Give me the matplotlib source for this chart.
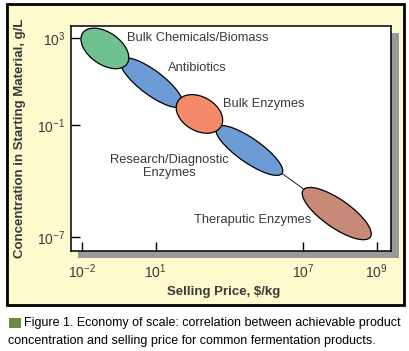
import matplotlib
matplotlib.use("Agg")
import matplotlib.pyplot as plt
from matplotlib.patches import Ellipse, Rectangle
from matplotlib.transforms import ScaledTranslation

plt.rcParams['font.family'] = ['Liberation Sans', 'DejaVu Sans']
plt.rcParams['mathtext.fontset'] = 'custom'
plt.rcParams['mathtext.rm'] = 'Liberation Sans'
plt.rcParams['mathtext.default'] = 'regular'

# ---- data (axis positions in plot units) ----
x_tick_pos = [-2, 1, 7, 10]
x_tick_labels = ['$10^{-2}$', '$10^{1}$', '$10^{7}$', '$10^{9}$']
y_tick_pos = [3, -1, -6.15]
y_tick_labels = ['$10^{3}$', '$10^{-1}$', '$10^{-7}$']

products = ['Antibiotics', 'Research/Diagnostic\nEnzymes', 'Bulk Chemicals/Biomass',
            'Bulk Enzymes', 'Theraputic Enzymes']
center_x = [0.83, 4.81, -1.07, 2.78, 8.37]
center_y = [0.95, -2.17, 2.52, -0.49, -5.07]
size_major = [76, 80, 54, 50, 82]   # px
size_minor = [24, 24, 32, 34, 28]   # px
tilt = [-37, -35, -35, -30, -35]
fills = ['#6d9bd6', '#6d9bd6', '#6fc190', '#f58a6b', '#c98978']

label_x = [1.50, 1.54, -0.17, 3.73, 2.55]
label_y = [1.62, -2.91, 3.0, -0.03, -5.37]
label_ha = ['left', 'center', 'left', 'left', 'left']

link_x = [6.17, 7.02]
link_y = [-3.25, -3.94]

W, H = 410, 351
fig = plt.figure(figsize=(W / 100, H / 100), dpi=100)
fig.patch.set_facecolor('white')

def fx(px):
    return px / W

def fy(py):
    return 1 - py / H

# yellow panel
fig.patches.append(Rectangle((fx(7), fy(305)), fx(404) - fx(7), fy(4) - fy(305),
                             transform=fig.transFigure, facecolor='#fffacd',
                             edgecolor='black', linewidth=2, zorder=-2))
# shadow
fig.patches.append(Rectangle((fx(78), fy(258)), fx(321), 225 / H,
                             transform=fig.transFigure, facecolor='#9a9a9a',
                             edgecolor='none', zorder=-1))

ax = fig.add_axes([fx(71), fy(251), fx(320), 225 / H])
ax.set_facecolor('white')
ax.set_xlim(-2.45, 10.58)
ax.set_ylim(-6.79, 3.55)
for s in ax.spines.values():
    s.set_linewidth(1.1)
    s.set_color('black')

ax.set_xticks(x_tick_pos)
ax.set_xticklabels(x_tick_labels)
ax.set_yticks(y_tick_pos)
ax.set_yticklabels(y_tick_labels)
ax.tick_params(axis='both', direction='in', length=6.5, width=1.0, colors='black',
               labelcolor='#3a3a3a', labelsize=10)
ax.tick_params(axis='x', pad=8)
ax.tick_params(axis='y', pad=4)

for i in range(len(products)):
    tr = fig.dpi_scale_trans + ScaledTranslation(center_x[i], center_y[i], ax.transData)
    e = Ellipse((0, 0), size_major[i] / 100, size_minor[i] / 100, angle=tilt[i],
                transform=tr, facecolor=fills[i], edgecolor='black', linewidth=0.9, zorder=2 + i)
    ax.add_patch(e)
    ax.text(label_x[i], label_y[i], products[i], ha=label_ha[i], va='center',
            multialignment='center', fontsize=9.3, color='#3a3a3a', zorder=10,
            linespacing=1.15)

ax.plot(link_x, link_y, color='black', linewidth=0.6, zorder=1)

fig.text(fx(20), fy(138), 'Concentration in Starting Material, g/L', rotation=90,
         ha='center', va='center', fontsize=9.5, fontweight='bold', color='#3a3a3a')
fig.text(fx(224), fy(292), 'Selling Price, $/kg', ha='center', va='center',
         fontsize=9.5, fontweight='bold', color='#3a3a3a')

# caption
fig.patches.append(Rectangle((fx(9), fy(328)), fx(12), 10 / H, transform=fig.transFigure,
                             facecolor='#6b8a45', edgecolor='none'))
fig.text(fx(24), fy(323), 'Figure 1. Economy of scale: correlation between achievable product',
         ha='left', va='center', fontsize=9, color='black')
fig.text(fx(8), fy(341), 'concentration and selling price for common fermentation products.',
         ha='left', va='center', fontsize=9, color='black')

fig.savefig('out.png', dpi=100)
